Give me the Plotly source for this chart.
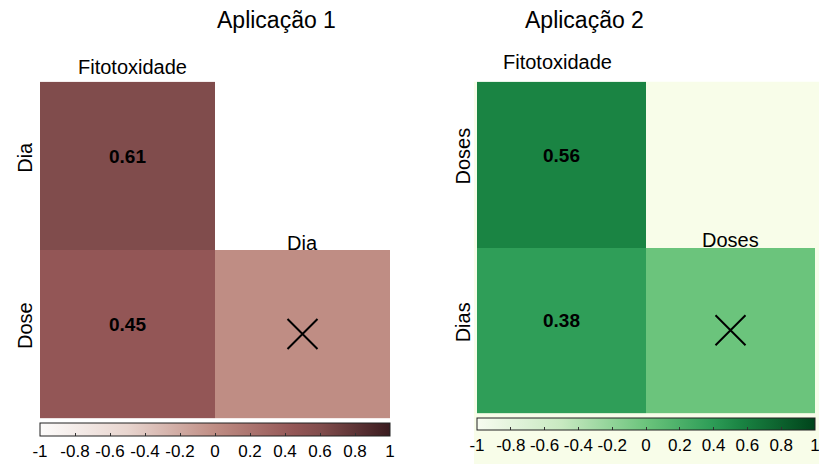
import plotly.graph_objects as go

# ---------------- data ----------------
titles = ["Aplicação 1", "Aplicação 2"]
cols_1 = ["Fitotoxidade", "Dia"]
rows_1 = ["Dia", "Dose"]
vals_1 = [[0.61, None], [0.45, 0.0]]
signif_1 = [[True, None], [True, False]]

cols_2 = ["Fitotoxidade", "Doses"]
rows_2 = ["Doses", "Dias"]
vals_2 = [[0.56, None], [0.38, 0.0]]
signif_2 = [[True, None], [True, False]]

tick_vals = [-1, -0.8, -0.6, -0.4, -0.2, 0, 0.2, 0.4, 0.6, 0.8, 1]
tick_text = ["-1", "-0.8", "-0.6", "-0.4", "-0.2", "0", "0.2", "0.4", "0.6", "0.8", "1"]

scale_1 = [[0, "#fdfcfb"], [0.25, "#e8d5cf"], [0.5, "#bf8d84"], [0.725, "#935656"],
           [0.805, "#804c4c"], [1, "#3a1b1f"]]
scale_2 = [[0, "#f7fcf0"], [0.25, "#c8e9c1"], [0.5, "#6bc47c"], [0.69, "#2f9e58"],
           [0.78, "#1a8443"], [1, "#00441b"]]

W, H = 819, 466
FONT = "Liberation Sans, Arial, sans-serif"

# pixel layout of each panel: (x0, x1, y0, y1) in screen px
panels = [
    dict(box=(40, 390, 82, 420), cb_top=425, cb_th=13, colx=(5, 0), coly=(15, 7), rowx=-15),
    dict(box=(477, 815, 82, 415), cb_top=420, cb_th=12, colx=(-4, 0), coly=(20, 7), rowx=-14),
]
datasets = [(cols_1, rows_1, vals_1, signif_1, scale_1),
            (cols_2, rows_2, vals_2, signif_2, scale_2)]

fig = go.Figure()
annotations = []

# light yellow background behind panel 2
fig.add_shape(type="rect", xref="paper", yref="paper",
              x0=474 / W, x1=1, y0=0, y1=(H - 82) / H,
              fillcolor="#f8fde9", line=dict(width=0), layer="below")

for k, (p, (cols, rows, vals, sig, cs)) in enumerate(zip(panels, datasets)):
    sfx = "" if k == 0 else str(k + 1)
    xa, ya = "x" + sfx, "y" + sfx
    ca = "coloraxis" + sfx
    x0, x1, y0, y1 = p["box"]
    xi = list(range(len(cols)))
    yi = list(range(len(rows)))
    fig.add_trace(go.Heatmap(z=vals, x=xi, y=yi, coloraxis=ca, xaxis=xa, yaxis=ya,
                             hoverinfo="skip", xgap=0, ygap=0))
    # X markers for non-significant cells
    mx, my = [], []
    for r in yi:
        for c in xi:
            if sig[r][c] is False:
                mx.append(c)
                my.append(r)
    fig.add_trace(go.Scatter(x=mx, y=my, mode="markers", xaxis=xa, yaxis=ya,
                             marker=dict(symbol="x-thin", size=30,
                                         line=dict(color="black", width=2)),
                             hoverinfo="skip", showlegend=False))
    # numbers
    for r in yi:
        for c in xi:
            if sig[r][c]:
                annotations.append(dict(x=c, y=r, xref=xa, yref=ya, text="<b>%.2f</b>" % vals[r][c],
                                        showarrow=False, yshift=9 if r == 0 else 10,
                                        font=dict(size=19, color="black", family=FONT)))
    # column labels (above the first filled cell of each column)
    for c, name in enumerate(cols):
        annotations.append(dict(x=c, y=c - 0.5, xref=xa, yref=ya, text=name, showarrow=False,
                                xshift=p["colx"][c], yshift=p["coly"][c], yanchor="middle",
                                font=dict(size=20, color="black", family=FONT)))
    # row labels
    for r, name in enumerate(rows):
        annotations.append(dict(x=-0.5, y=r, xref=xa, yref=ya, text=name, showarrow=False,
                                textangle=-90, xshift=p["rowx"], yshift=8,
                                font=dict(size=20, color="black", family=FONT)))
    # title
    annotations.append(dict(x=((x0 + x1) / 2) / W, y=(H - 20) / H, xref="paper", yref="paper",
                            text=titles[k], showarrow=False, yanchor="middle",
                            font=dict(size=23, color="black", family=FONT)))

    fig.update_layout(**{
        "xaxis" + sfx: dict(domain=[x0 / W, x1 / W], range=[-0.5, 1.5], showticklabels=False,
                            showgrid=False, zeroline=False, ticks="", anchor=ya, fixedrange=True),
        "yaxis" + sfx: dict(domain=[(H - y1) / H, (H - y0) / H], range=[1.5, -0.5],
                            showticklabels=False, showgrid=False, zeroline=False, ticks="",
                            anchor=xa, fixedrange=True),
        ca: dict(colorscale=cs, cmin=-1, cmax=1,
                 colorbar=dict(orientation="h", x=((x0 + x1) / 2) / W, xanchor="center",
                               y=(H - p["cb_top"]) / H, yanchor="top",
                               lenmode="pixels", len=x1 - x0, thickness=p["cb_th"],
                               outlinecolor="#222222", outlinewidth=1,
                               xpad=0, ypad=0, ticklabeloverflow="allow",
                               tickvals=tick_vals, ticktext=tick_text,
                               ticks="inside", ticklen=3, tickcolor="#333333",
                               tickfont=dict(size=17, color="black", family=FONT)))
    })

fig.update_layout(width=W, height=H, margin=dict(l=0, r=0, t=0, b=0),
                  paper_bgcolor="white", plot_bgcolor="rgba(0,0,0,0)",
                  showlegend=False, annotations=annotations)

fig.write_html("out.html")
